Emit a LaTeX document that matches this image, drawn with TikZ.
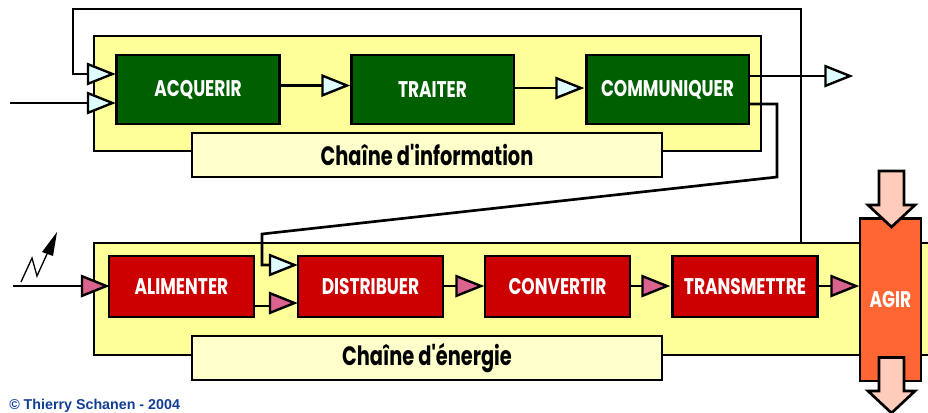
\documentclass[tikz,border=0pt]{standalone}
\usepackage{fontspec}
\setmainfont{Liberation Sans}
\newfontfamily\boxfont[FakeStretch=0.75]{Poppins Bold}
\newfontfamily\labfont[FakeStretch=0.73]{Poppins Bold}
\definecolor{bandy}{HTML}{FFFF99}
\definecolor{laby}{HTML}{FFFFCC}
\definecolor{greenb}{HTML}{006000}
\definecolor{redb}{HTML}{CC0000}
\definecolor{tblue}{HTML}{E0FFFF}
\definecolor{tpink}{HTML}{D9628F}
\definecolor{agirc}{HTML}{FF6633}
\definecolor{arrc}{HTML}{FFCCBB}
\definecolor{copy}{HTML}{123F96}
\tikzset{
  px/.style={x=0.75pt,y=-0.75pt},
  ln/.style={draw=black,line width=2pt,line join=miter},
  band/.style={ln,fill=bandy},
  lab/.style={ln,fill=laby,minimum width=352.5pt,minimum height=33pt,inner sep=0pt,font=\labfont\fontsize{19.9pt}{21pt}\selectfont,text=black},
  fbox/.style={ln,minimum height=51.75pt,inner sep=0pt,text=white,font=\boxfont\fontsize{17pt}{19pt}\selectfont},
  gbox/.style={fbox,fill=greenb,minimum width=122pt},
  rbox/.style={fbox,fill=redb,minimum width=108.75pt,minimum height=45.75pt},
  agirbox/.style={fbox,fill=agirc,minimum width=45.75pt,minimum height=122pt},
  tri/.style={draw=black,line width=1.8pt,line join=miter},
  bigarrow/.style={ln,fill=arrc},
}
% x of base, y of centre, fill, name of the coordinate at the middle of the base
\newcommand{\tribt}[4]{%
  \draw[tri,fill=#3] (#1+0.5,#2-9.8) -- (#1+25,#2) -- (#1+0.5,#2+9.8) -- cycle;
  \coordinate (#4) at (#1+0.5,#2);}
\begin{document}
\begin{tikzpicture}[px]
\useasboundingbox (0,0) rectangle (928,412);
% bands
\draw[band] (94,36) rectangle (761,151);
\fill[bandy] (94,243) rectangle (930,355);
\draw[ln] (930,243) -- (94,243) -- (94,355) -- (930,355);
% label boxes
\node[lab] (labi) at (427,155) {Chaîne d'information};
\node[lab] (labe) at (427,358) {Chaîne d'énergie};
% information boxes
\node[gbox] (acq) at (198,89.5) {ACQUERIR};
\node[gbox] (tra) at (432.5,89.5) {TRAITER};
\node[gbox] (com) at (667.5,89.5) {COMMUNIQUER};
% energy boxes
\node[rbox] (ali) at (181.5,286.5) {ALIMENTER};
\node[rbox] (dis) at (370.5,286.5) {DISTRIBUER};
\node[rbox] (con) at (557.5,286.5) {CONVERTIR};
\node[rbox] (trn) at (745,286.5) {TRANSMETTRE};
% free points of the connectors
\coordinate (fbfoot) at (801,243);
\coordinate (fbtop) at (801,9);
\coordinate (fbl) at (73,9);
\coordinate (inA) at (10,103);
\coordinate (cstart) at (749,104);
\coordinate (c1) at (777,104);
\coordinate (c2) at (777,177);
\coordinate (c3) at (262,234);
\coordinate (inE) at (13,286);
\coordinate (alout) at (254,306);
% triangles
\tribt{87.5}{74}{tblue}{tfb}
\tribt{87.5}{103}{tblue}{tin}
\tribt{322}{85.5}{tblue}{tat}
\tribt{556}{88}{tblue}{ttc}
\tribt{825}{76}{tblue}{tout}
\tribt{81.5}{286}{tpink}{tali}
\tribt{269.5}{265}{tblue}{tdo}
\tribt{269.5}{303}{tpink}{tde}
\tribt{456}{286}{tpink}{tdc}
\tribt{642}{286}{tpink}{tct}
\tribt{831}{286}{tpink}{tta}
% connectors
\draw[ln] (fbfoot) -- (fbtop) -- (fbl) -- (fbl|-tfb) -- (tfb);
\draw[ln] (inA) -- (tin);
\draw[ln] (acq.east|-tat) -- (tat);
\draw[ln] (tra.east|-ttc) -- (ttc);
\draw[ln] (com.east|-tout) -- (tout);
\draw[ln] (cstart) -- (c1) -- (c2) -- (c3) -- (c3|-tdo) -- (tdo);
\draw[ln] (inE) -- (tali);
\draw[ln] (alout) -- (tde|-alout);
\draw[ln] (dis.east|-tdc) -- (tdc);
\draw[ln] (con.east|-tct) -- (tct);
\draw[ln] (trn.east|-tta) -- (tta);
% AGIR
\node[agirbox] (agir) at (890.5,299.5) {AGIR};
\draw[bigarrow] (879,171) -- (904,171) -- (904,205) -- (915,205) -- (891.5,227) -- (868,205) -- (879,205) -- cycle;
\draw[bigarrow] (879,357.5) -- (904,357.5) -- (904,391) -- (915,391) -- (891.5,413) -- (868,391) -- (879,391) -- cycle;
% lightning
\draw[draw=black,line width=1pt] (21,282) -- (32,258) -- (37,276) -- (47,254);
\fill[black] (57,232) -- (53,256) -- (42,252) -- cycle;
% credit
\node[anchor=west,inner sep=0pt,text=copy,font=\bfseries\fontsize{10.7pt}{12pt}\selectfont] (cr) at (9,406) {© Thierry Schanen - 2004};
\end{tikzpicture}
\end{document}
